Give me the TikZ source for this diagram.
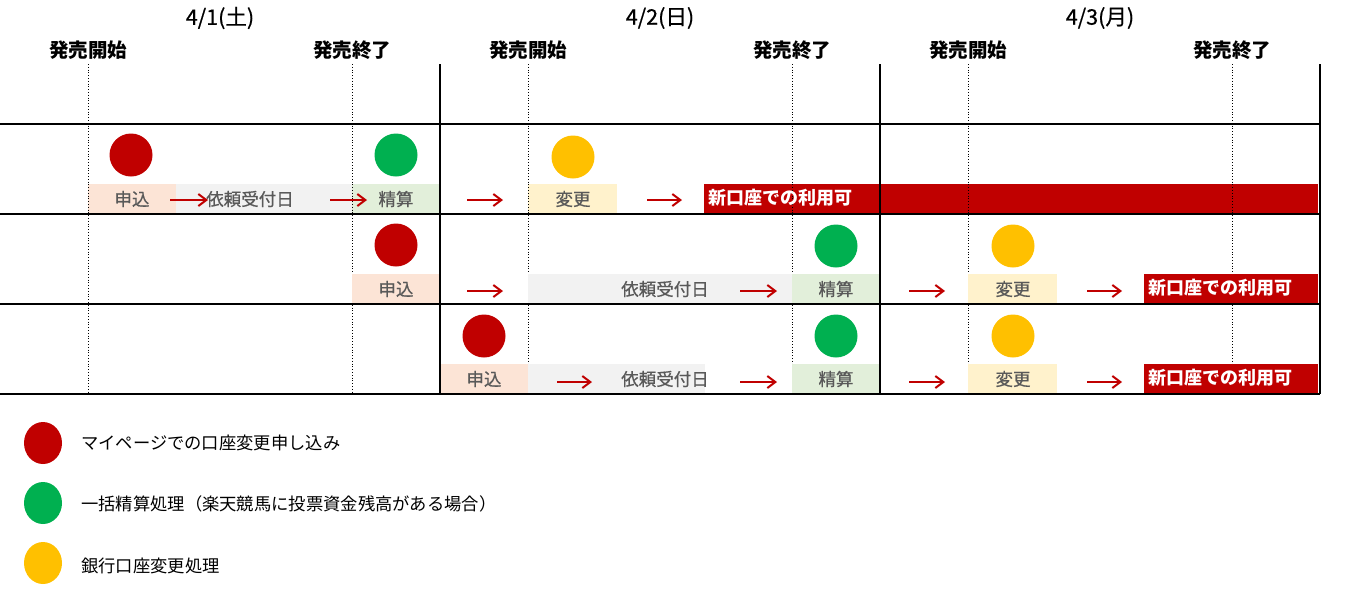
\documentclass[tikz,border=0pt]{standalone}
\usepackage{fontspec}
\setmainfont{Noto Sans CJK JP}
\newfontfamily\medfont{Noto Sans CJK JP}[FakeBold=0.6]
\usetikzlibrary{arrows.meta,shapes.geometric}
\definecolor{dkred}{HTML}{C00000}
\definecolor{dkgreen}{HTML}{00B050}
\definecolor{dkyellow}{HTML}{FFC000}
\definecolor{peach}{HTML}{FCE4D6}
\definecolor{ltgray}{HTML}{F2F2F2}
\definecolor{ltgreen}{HTML}{E2EFDA}
\definecolor{ltyellow}{HTML}{FFF2CC}
\definecolor{txtgray}{HTML}{595959}

\tikzset{
  rule/.style={line width=2pt},
  daysep/.style={line width=0.8pt, dotted},
  dot/.style={circle, inner sep=0pt, minimum size=43pt},
  keydot/.style={ellipse, inner sep=0pt, minimum width=38pt, minimum height=42pt},
  lbl/.style={text=txtgray, inner sep=0pt, font=\medfont\fontsize{17.5}{20}\selectfont},
  oklbl/.style={text=white, inner sep=0pt, anchor=west, font=\bfseries\fontsize{18}{20}\selectfont},
  redarrow/.style={dkred, line width=2pt, -{Straight Barb[length=8pt,width=12pt]}},
  datehead/.style={inner sep=0pt, font=\medfont\fontsize{21.5}{24}\selectfont},
  salehead/.style={inner sep=0pt, font=\bfseries\fontsize{19.5}{22}\selectfont},
  legtext/.style={inner sep=0pt, anchor=west, font=\fontsize{17.3}{20}\selectfont}
}

\begin{document}
\begin{tikzpicture}[x=1pt, y=-1pt]
  \useasboundingbox (0,0) rectangle (1355,614);

  % header
  \node[datehead] (d1) at (220,18) {4/1(土)};
  \node[datehead] (d2) at (660,18) {4/2(日)};
  \node[datehead] (d3) at (1100,18) {4/3(月)};
  \foreach \x [count=\i] in {88,528,968}
    \node[salehead] (open\i) at (\x,50) {発売開始};
  \foreach \x [count=\i] in {352,792,1232}
    \node[salehead] (close\i) at (\x,50) {発売終了};

  % row 1
  \fill[peach] (88,184) rectangle (176,214);
  \fill[ltgray] (176,184) rectangle (352,214);
  \fill[ltgreen] (352,184) rectangle (440,214);
  \fill[ltyellow] (528,184) rectangle (617,214);
  \fill[dkred] (704,184) rectangle (1318,214);

  % dotted lines, day lines, row lines
  \foreach \x in {88,352,528,792,968,1232}
    \draw[daysep] (\x,64) -- (\x,394);

  % rows 2 and 3
  \fill[peach] (352,274) rectangle (440,304);
  \fill[ltgray] (528,274) rectangle (792,304);
  \fill[ltgreen] (792,274) rectangle (880,304);
  \fill[ltyellow] (968,274) rectangle (1057,304);
  \fill[dkred] (1144,274) rectangle (1318,304);
  \fill[peach] (440,364) rectangle (528,394);
  \fill[ltgray] (528,364) rectangle (705,394);
  \fill[ltgreen] (792,364) rectangle (880,394);
  \fill[ltyellow] (968,364) rectangle (1057,394);
  \fill[dkred] (1144,364) rectangle (1318,394);

  \foreach \x in {440,880,1320}
    \draw[rule] (\x,64) -- (\x,394);
  \foreach \y in {124,214,304,394}
    \draw[rule] (0,\y) -- (1320,\y);

  % row 1 labels
  \node[dot, fill=dkred] (app1) at (131,155) {};
  \node[dot, fill=dkgreen] (pay1) at (396,155) {};
  \node[dot, fill=dkyellow] (chg1) at (573,157) {};
  \node[lbl] (appl1) at (132,199) {申込};
  \node[lbl] (recl1) at (250,199) {依頼受付日};
  \node[lbl] (payl1) at (396,199) {精算};
  \node[lbl] (chgl1) at (573,199) {変更};
  \node[oklbl] (ok1) at (708,198) {新口座での利用可};

  % row 2 labels
  \node[dot, fill=dkred] (app2) at (396,245) {};
  \node[dot, fill=dkgreen] (pay2) at (836,246) {};
  \node[dot, fill=dkyellow] (chg2) at (1013,246) {};
  \node[lbl] (appl2) at (396,289) {申込};
  \node[lbl] (recl2) at (665,289) {依頼受付日};
  \node[lbl] (payl2) at (836,289) {精算};
  \node[lbl] (chgl2) at (1013,289) {変更};
  \node[oklbl] (ok2) at (1148,288) {新口座での利用可};

  % row 3 labels
  \node[dot, fill=dkred] (app3) at (484,336) {};
  \node[dot, fill=dkgreen] (pay3) at (836,336) {};
  \node[dot, fill=dkyellow] (chg3) at (1013,336) {};
  \node[lbl] (appl3) at (484,379) {申込};
  \node[lbl] (recl3) at (665,379) {依頼受付日};
  \node[lbl] (payl3) at (836,379) {精算};
  \node[lbl] (chgl3) at (1013,379) {変更};
  \node[oklbl] (ok3) at (1148,378) {新口座での利用可};

  % arrows
  \foreach \y/\a/\b [count=\i] in {200/170/208, 200/330/367, 200/467/503, 200/647/682,
      291/467/503, 291/740/777, 291/909/945, 291/1087/1122,
      382/557/592, 382/740/777, 382/909/945, 382/1087/1122} {
    \coordinate (from\i) at (\a,\y);
    \coordinate (to\i) at (\b,\y);
    \draw[redarrow] (from\i) -- (to\i);
  }

  % legend
  \node[keydot, fill=dkred] (keyapp) at (43,443) {};
  \node[keydot, fill=dkgreen] (keypay) at (43,503) {};
  \node[keydot, fill=dkyellow] (keychg) at (43,563) {};
  \node[legtext] (keyappt) at (81,443) {マイページでの口座変更申し込み};
  \node[legtext] (keypayt) at (81,504) {一括精算処理（楽天競馬に投票資金残高がある場合）};
  \node[legtext] (keychgt) at (81,566) {銀行口座変更処理};
\end{tikzpicture}
\end{document}
